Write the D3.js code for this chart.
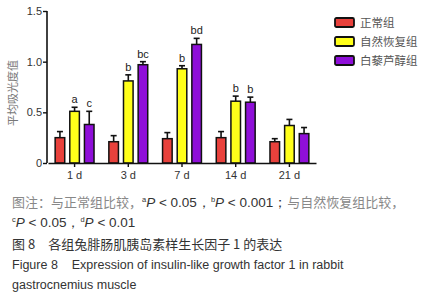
<!DOCTYPE html>
<html>
<head>
<meta charset="utf-8">
<script src="https://cdn.jsdelivr.net/npm/d3@7"></script>
<style>
  body { margin: 0; background: #fff; }
  svg { display: block; }
</style>
</head>
<body>
<div id="chart"></div>
<script>
// data
const days = ["1 d", "3 d", "7 d", "14 d", "21 d"];
const groups = ["正常组", "自然恢复组", "白藜芦醇组"];
const normal  = [0.25, 0.21, 0.24, 0.25, 0.21];
const natural = [0.51, 0.81, 0.93, 0.61, 0.37];
const resv    = [0.38, 0.97, 1.17, 0.60, 0.29];
const normalErr  = [0.06, 0.06, 0.06, 0.06, 0.03];
const naturalErr = [0.04, 0.06, 0.03, 0.05, 0.06];
const resvErr    = [0.13, 0.03, 0.06, 0.05, 0.06];
const naturalSig = ["a", "b", "b", "b", ""];
const resvSig    = ["c", "bc", "bd", "b", ""];
const yTicks = [0, 0.5, 1.0, 1.5];
const colors = ["#e8413c", "#ffff1a", "#8f0fd9"];

const W = 426, H = 300;
const svg = d3.select("#chart").append("svg").attr("width", W).attr("height", H);

const x0 = d3.scaleBand().domain(days).range([48, 316]).paddingInner(0.25).paddingOuter(0.12);
const x1 = d3.scaleBand().domain(groups).range([0, x0.bandwidth()]).paddingInner(0.25);
const y = d3.scaleLinear().domain([0, 1.5]).range([163, 11]);

const series = [
  { vals: normal, err: normalErr, sig: null },
  { vals: natural, err: naturalErr, sig: naturalSig },
  { vals: resv, err: resvErr, sig: resvSig }
];

const rows = [];
days.forEach((d, i) => series.forEach((s, j) => rows.push({
  day: d, g: groups[j], c: colors[j], v: s.vals[i], e: s.err[i], sig: s.sig ? s.sig[i] : ""
})));

const bar = svg.append("g").selectAll("g").data(rows).join("g")
  .attr("transform", d => `translate(${x0(d.day) + x1(d.g)},0)`);

// error bars (upper only)
bar.append("line")
  .attr("x1", x1.bandwidth() / 2).attr("x2", x1.bandwidth() / 2)
  .attr("y1", d => y(d.v)).attr("y2", d => y(d.v + d.e))
  .attr("stroke", "#111").attr("stroke-width", 1.6);
bar.append("line")
  .attr("x1", x1.bandwidth() / 2 - 3).attr("x2", x1.bandwidth() / 2 + 3)
  .attr("y1", d => y(d.v + d.e)).attr("y2", d => y(d.v + d.e))
  .attr("stroke", "#111").attr("stroke-width", 1.6);

bar.append("rect")
  .attr("x", 0.7).attr("width", x1.bandwidth() - 1.4)
  .attr("y", d => y(d.v)).attr("height", d => y(0) - y(d.v))
  .attr("fill", d => d.c).attr("stroke", "#111").attr("stroke-width", 1.5);

bar.append("text")
  .attr("x", x1.bandwidth() / 2).attr("y", d => y(d.v + d.e) - 4)
  .attr("text-anchor", "middle")
  .attr("font-family", "Liberation Sans, Arial, sans-serif").attr("font-size", 11)
  .attr("fill", "#222")
  .text(d => d.sig);

// axes
const yAxis = svg.append("g").attr("transform", "translate(47,0)")
  .call(d3.axisLeft(y).tickValues(yTicks).tickSize(4).tickFormat(d => d === 0 ? "0" : d3.format(".1f")(d)));
const xAxis = svg.append("g").attr("transform", "translate(0,163)")
  .call(d3.axisBottom(x0).tickSize(4).tickSizeOuter(0));
[yAxis, xAxis].forEach(a => {
  a.select(".domain").attr("stroke", "#111").attr("stroke-width", 1.6);
  a.selectAll(".tick line").attr("stroke", "#111").attr("stroke-width", 1.4);
  a.selectAll("text").attr("font-family", "Liberation Sans, Arial, sans-serif")
    .attr("font-size", 11).attr("fill", "#333");
});
yAxis.select(".domain").attr("d", "M0,11V163");
yAxis.selectAll("text").attr("x", -5);
xAxis.selectAll("text").attr("y", 8);

svg.append("text")
  .attr("transform", "translate(17,93) rotate(-90)")
  .attr("text-anchor", "middle")
  .attr("font-family", "Noto Sans CJK SC").attr("font-size", 11)
  .attr("fill", "#777")
  .text("平均吸光度值");

// legend
const lg = svg.append("g").selectAll("g").data(groups).join("g")
  .attr("transform", (d, i) => `translate(335,${18 + i * 19})`);
lg.append("rect").attr("width", 19).attr("height", 9).attr("rx", 1.5)
  .attr("fill", (d, i) => colors[i]).attr("stroke", "#111").attr("stroke-width", 1.8);
lg.append("text").attr("x", 25).attr("y", 9)
  .attr("font-family", "Noto Sans CJK SC").attr("font-size", 11.5).attr("fill", "#555")
  .text(d => d);

// caption
const cap = svg.append("g").attr("font-size", 13);
const lat = "Liberation Sans";
const l1 = cap.append("text").attr("x", 12).attr("y", 207);
l1.append("tspan").attr("font-family", "Noto Sans CJK SC").attr("fill", "#888").text("图注：与正常组比较，");
l1.append("tspan").attr("font-family", lat).attr("font-size", 7.5).attr("dy", -5).attr("fill", "#333").text("a");
l1.append("tspan").attr("font-family", lat).attr("font-size", 13.5).attr("font-style", "italic").attr("dy", 5).attr("fill", "#333").text("P");
l1.append("tspan").attr("font-family", lat).attr("font-size", 13.5).attr("fill", "#333").text(" < 0.05，");
l1.append("tspan").attr("font-family", lat).attr("font-size", 7.5).attr("dy", -5).attr("fill", "#333").text("b");
l1.append("tspan").attr("font-family", lat).attr("font-size", 13.5).attr("font-style", "italic").attr("dy", 5).attr("fill", "#333").text("P");
l1.append("tspan").attr("font-family", lat).attr("font-size", 13.5).attr("fill", "#333").text(" < 0.001；");
l1.append("tspan").attr("font-family", "Noto Sans CJK SC").attr("fill", "#888").text("与自然恢复组比较，");

const l2 = cap.append("text").attr("x", 12).attr("y", 227).attr("font-family", lat).attr("font-size", 13.5).attr("fill", "#333");
l2.append("tspan").attr("font-size", 7.5).attr("dy", -5).text("c");
l2.append("tspan").attr("font-style", "italic").attr("dy", 5).text("P");
l2.append("tspan").text(" < 0.05，");
l2.append("tspan").attr("font-size", 7.5).attr("dy", -5).text("d");
l2.append("tspan").attr("font-style", "italic").attr("dy", 5).text("P");
l2.append("tspan").text(" < 0.01");

cap.append("text").attr("x", 12).attr("y", 249).attr("font-family", "Noto Sans CJK SC").attr("fill", "#333")
  .attr("font-size", 13)
  .text("图 8　各组兔腓肠肌胰岛素样生长因子 1 的表达");
cap.append("text").attr("x", 12).attr("y", 269).attr("font-family", lat).attr("fill", "#333")
  .attr("font-size", 12.5).style("white-space", "pre")
  .text("Figure 8    Expression of insulin-like growth factor 1 in rabbit");
cap.append("text").attr("x", 12).attr("y", 289).attr("font-family", lat).attr("fill", "#333")
  .attr("font-size", 12.5)
  .text("gastrocnemius muscle");
</script>
</body>
</html>
